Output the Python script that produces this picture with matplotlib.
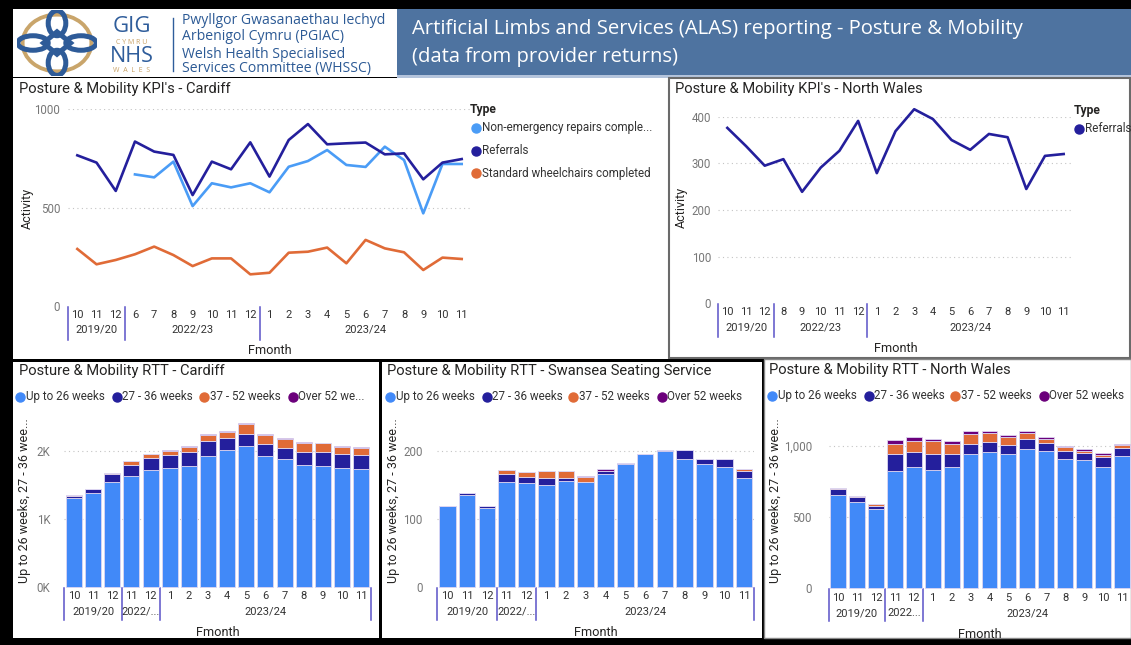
import numpy as np
import matplotlib
matplotlib.use('Agg')
import matplotlib.pyplot as plt
from matplotlib.patches import Rectangle, Ellipse, Polygon
from matplotlib.lines import Line2D

# ---------------- DATA ----------------
kpi_cardiff_months = ['10', '11', '12', '6', '7', '8', '9', '10', '11', '12',
                      '1', '2', '3', '4', '5', '6', '7', '8', '9', '10', '11']
kpi_cardiff_years = [('2019/20', 3), ('2022/23', 7), ('2023/24', 11)]
cardiff_repairs = [np.nan, np.nan, np.nan, 669, 654, 734, 508, 624, 603, 624,
                   578, 708, 737, 793, 717, 707, 810, 742, 471, 722, 722]
cardiff_referrals = [766, 729, 585, 836, 785, 768, 564, 734, 695, 832,
                     658, 844, 925, 822, 827, 831, 771, 776, 644, 729, 747]
cardiff_wheelchairs = [290, 212, 234, 263, 302, 259, 203, 242, 242, 161,
                       169, 271, 276, 297, 217, 336, 293, 273, 183, 246, 239]

kpi_nw_months = ['10', '11', '12', '8', '9', '10', '11', '12',
                 '1', '2', '3', '4', '5', '6', '7', '8', '9', '10', '11']
kpi_nw_years = [('2019/20', 3), ('2022/23', 5), ('2023/24', 11)]
nw_referrals = [376, 337, 295, 309, 239, 291, 327, 391,
                279, 369, 416, 395, 350, 329, 363, 356, 245, 316, 320]

rtt_months = ['10', '11', '12', '11', '12', '1', '2', '3', '4', '5', '6', '7', '8', '9', '10', '11']
rtt_years_cardiff = [('2019/20', 3), ('2022/...', 2), ('2023/24', 11)]
rtt_years_swansea = [('2019/20', 3), ('2022/...', 2), ('2023/24', 11)]
rtt_years_nw = [('2019/20', 3), ('2022...', 2), ('2023/24', 11)]
rtt_series = ['Up to 26 weeks', '27 - 36 weeks', '37 - 52 weeks', 'Over 52 weeks']

cardiff_up26 = [1315, 1379, 1540, 1638, 1721, 1755, 1785, 1927, 2010, 2073, 1927, 1888, 1790, 1780, 1746, 1731]
cardiff_27_36 = [30, 64, 127, 152, 171, 181, 200, 220, 176, 176, 181, 156, 200, 210, 205, 210]
cardiff_37_52 = [10, 4, 15, 63, 59, 69, 79, 88, 98, 142, 132, 132, 132, 122, 108, 108]
cardiff_over52 = [0, 0, 0, 5, 10, 10, 9, 9, 9, 15, 9, 15, 10, 10, 14, 10]

swansea_up26 = [120, 135, 117, 154, 153, 150, 156, 155, 167, 181, 196, 200, 189, 181, 176, 160]
swansea_27_36 = [0, 4, 3, 12, 9, 11, 4, 0, 3, 2, 0, 2, 13, 8, 12, 11]
swansea_37_52 = [0, 0, 0, 6, 7, 9, 10, 7, 1, 0, 0, 0, 0, 0, 0, 3]
swansea_over52 = [0, 0, 0, 0, 0, 0, 0, 2, 2, 0, 0, 0, 0, 0, 0, 0]

nw_up26 = [657, 607, 554, 822, 853, 829, 848, 939, 958, 942, 979, 965, 909, 900, 853, 928]
nw_27_36 = [37, 31, 25, 120, 100, 113, 94, 73, 70, 63, 65, 51, 54, 51, 70, 58]
nw_37_52 = [7, 12, 12, 70, 82, 91, 67, 70, 58, 58, 47, 31, 25, 14, 12, 19]
nw_over52 = [0, 0, 0, 28, 28, 14, 24, 21, 17, 12, 12, 11, 12, 12, 11, 4]

# ---------------- STYLE ----------------
C_LIGHT = '#4a9cf6'
C_DARK = '#241f9c'
C_ORANGE = '#e06b37'
C_PURPLE = '#6b007b'
C_BAR = '#4189f8'
DIV = '#5a52c8'
TXT = '#252423'
TICK = '#777777'
F = ['Roboto', 'DejaVu Sans']
FH = ['Open Sans', 'DejaVu Sans']
CFS = 8.0   # category label font size

W, H = 1131, 645
fig = plt.figure(figsize=(W / 100, H / 100), dpi=100, facecolor='black')


def fx(x):
    return x / W


def fy(y):
    return 1 - y / H


def px_axes(x0, y0, x1, y1, **kw):
    return fig.add_axes([x0 / W, 1 - y1 / H, (x1 - x0) / W, (y1 - y0) / H], **kw)


def rect(x0, y0, x1, y1, fc, ec='none', lw=0, z=-5):
    fig.add_artist(Rectangle((fx(x0), fy(y1)), (x1 - x0) / W, (y1 - y0) / H,
                             transform=fig.transFigure, facecolor=fc,
                             edgecolor=ec, linewidth=lw, zorder=z))


def ftext(x, y, s, **kw):
    kw.setdefault('family', F)
    kw.setdefault('color', TXT)
    fig.text(fx(x), fy(y), s, **kw)


def fmarker(x, y, color, ms=6.5):
    fig.add_artist(Line2D([fx(x)], [fy(y)], marker='o', markersize=ms,
                          color=color, transform=fig.transFigure, zorder=5))


# ---------------- PANELS ----------------
rect(13, 9, 397, 77, 'white')
rect(397, 9, 1131, 76, '#4e73a0')
rect(397, 75.5, 1131, 77.5, '#b4c4dc')
rect(13, 78, 668, 359, 'white')
rect(669, 78, 1130, 358, 'white', ec='#6a6a6a', lw=1.5)
rect(13, 362, 379, 638, 'white')
rect(382, 362, 762, 638, 'white')
rect(764, 359, 1131, 638, 'white', ec='#888888', lw=1)

# ---------------- HEADER ----------------
lax = px_axes(17, 10, 97, 76)
lax.set_xlim(0, 1)
lax.set_ylim(0, 1)
lax.axis('off')
lax.add_patch(Ellipse((0.5, 0.5), 0.86, 0.86, facecolor='none', edgecolor='#c9a56b', lw=2.8))
for (cx, cy, w, h) in [(0.5, 0.8, 0.22, 0.38), (0.5, 0.2, 0.22, 0.38),
                       (0.2, 0.5, 0.38, 0.22), (0.8, 0.5, 0.38, 0.22)]:
    lax.add_patch(Ellipse((cx, cy), w, h, facecolor='none', edgecolor='#2e5b98', lw=3.6))
lax.add_patch(Polygon([(0.5, 0.33), (0.67, 0.5), (0.5, 0.67), (0.33, 0.5)], closed=True,
                      facecolor='none', edgecolor='#2e5b98', lw=3.6))

ftext(132, 26, 'GIG', fontsize=16, color='#2f5d9b', ha='center', va='center', family=FH)
ftext(132, 42, 'C Y M R U', fontsize=5, color='#c8a165', ha='center', va='center', family=FH)
ftext(132, 56, 'NHS', fontsize=15.5, color='#2f5d9b', ha='center', va='center', family=FH)
ftext(132, 70.5, 'W  A  L  E  S', fontsize=5, color='#c8a165', ha='center', va='center', family=FH)
fig.add_artist(Line2D([fx(173), fx(173)], [fy(18), fy(71)], color='#2f5d9b', lw=1,
                      transform=fig.transFigure))
for yy, s in [(21, 'Pwyllgor Gwasanaethau Iechyd'), (37, 'Arbenigol Cymru (PGIAC)'),
              (54, 'Welsh Health Specialised'), (68.5, 'Services Committee (WHSSC)')]:
    ftext(182, yy, s, fontsize=10.1, color='#2c5a95', ha='left', va='center', family=FH)

ftext(412, 29, 'Artificial Limbs and Services (ALAS) reporting - Posture & Mobility',
      fontsize=14.6, color='white', ha='left', va='center', family=FH)
ftext(412, 57, '(data from provider returns)',
      fontsize=14.6, color='white', ha='left', va='center', family=FH)


# ---------------- HELPERS ----------------
def setup_axis(ax, months, groups, ytop, ybot, ymax, yticks, yticklabels,
               ypad, month_dy, year_dy, fmonth_dy, div_bot, right_div=False):
    n = len(months)
    hpx = ybot - ytop
    ax.set_facecolor('none')
    ax.set_xlim(-0.5, n - 0.5)
    ax.set_ylim(0, ymax)
    for s in ax.spines.values():
        s.set_visible(False)
    ax.set_xticks(range(n))
    ax.set_xticklabels(months, fontsize=CFS, color='#333333', family=F)
    ax.tick_params(axis='x', length=0, pad=(month_dy - 5.5) / 1.389)
    ax.set_yticks(yticks)
    ax.set_yticklabels(yticklabels, fontsize=8.3, color=TICK, family=F)
    ax.tick_params(axis='y', length=0, pad=ypad / 1.389)
    for t in yticks:
        if t > 0:
            ax.axhline(t, color='#c4c4c4', lw=0.8, ls=(0, (1, 3)), zorder=0)
    trans = ax.get_xaxis_transform()
    start = 0
    bounds = [-0.5]
    for name, cnt in groups:
        c = start + (cnt - 1) / 2
        ax.text(c, -year_dy / hpx, name, transform=trans, ha='center', va='center',
                fontsize=CFS, color='#333333', family=F)
        start += cnt
        bounds.append(start - 0.5)
    if not right_div:
        bounds = bounds[:-1]
    for b in bounds:
        ax.plot([b, b], [-1 / hpx, -div_bot / hpx], transform=trans, color=DIV,
                lw=1.1, clip_on=False)
    ax.text((n - 1) / 2, -fmonth_dy / hpx, 'Fmonth', transform=trans, ha='center',
            va='center', fontsize=9.2, color=TXT, family=F)


def stacked(ax, parts, colors):
    x = np.arange(len(parts[0]))
    bottom = np.zeros(len(x))
    for vals, col in zip(parts, colors):
        v = np.array(vals, dtype=float)
        ax.bar(x, v, bottom=bottom, width=0.84, color=col, edgecolor='#ddd6f2',
               linewidth=0.6, zorder=2, clip_on=False)
        bottom += v


TFS = 10.6

# ---------------- KPI CARDIFF ----------------
ftext(19, 89, "Posture & Mobility KPI's - Cardiff", fontsize=TFS, ha='left', va='center')
ax1 = px_axes(67.7, 109.3, 471.3, 306)
setup_axis(ax1, kpi_cardiff_months, kpi_cardiff_years, 109.3, 306, 1000,
           [0, 500, 1000], ['0', '500', '1000'], 7.5, 9.5, 23.5, 45, 34)
x = np.arange(len(kpi_cardiff_months))
ax1.plot(x, cardiff_repairs, color=C_LIGHT, lw=1.9, clip_on=False, zorder=3)
ax1.plot(x, cardiff_referrals, color=C_DARK, lw=1.9, clip_on=False, zorder=3)
ax1.plot(x, cardiff_wheelchairs, color=C_ORANGE, lw=1.9, clip_on=False, zorder=3)
ftext(27, 208, 'Activity', fontsize=9, rotation=90, ha='center', va='center')
ftext(470, 110, 'Type', fontsize=8.7, weight='bold', ha='left', va='center')
for yy, lab, col in [(128, 'Non-emergency repairs comple...', C_LIGHT),
                     (151, 'Referrals', C_DARK),
                     (173, 'Standard wheelchairs completed', C_ORANGE)]:
    fmarker(475.5, yy, col)
    ftext(482, yy, lab, fontsize=8.4, ha='left', va='center', color='#333333')

# ---------------- KPI NORTH WALES ----------------
ftext(675, 89.5, "Posture & Mobility KPI's - North Wales", fontsize=TFS, ha='left', va='center')
ax2 = px_axes(718, 116.7, 1073, 303.3)
setup_axis(ax2, kpi_nw_months, kpi_nw_years, 116.7, 303.3, 400,
           [0, 100, 200, 300, 400], ['0', '100', '200', '300', '400'], 7, 9.5, 24.5, 45, 34)
x2 = np.arange(len(kpi_nw_months))
ax2.plot(x2, nw_referrals, color=C_DARK, lw=1.9, clip_on=False, zorder=3)
ftext(681, 207, 'Activity', fontsize=9, rotation=90, ha='center', va='center')
ftext(1074, 110.7, 'Type', fontsize=8.7, weight='bold', ha='left', va='center')
fmarker(1079, 128.5, C_DARK)
ftext(1085, 128.5, 'Referrals', fontsize=8.4, ha='left', va='center', color='#333333')

# ---------------- RTT PANELS ----------------
bar_colors = [C_BAR, C_DARK, C_ORANGE, C_PURPLE]
ylab = 'Up to 26 weeks, 27 - 36 wee...'


def rtt_legend(xs, labels, y):
    for xm, lab, col in zip(xs, labels, bar_colors):
        fmarker(xm, y, col)
        ftext(xm + 5.5, y, lab, fontsize=8.4, ha='left', va='center', color='#333333')


# Cardiff
ftext(19, 371, 'Posture & Mobility RTT - Cardiff', fontsize=TFS, ha='left', va='center')
rtt_legend([20, 117, 204, 293], ['Up to 26 weeks', '27 - 36 weeks', '37 - 52 weeks', 'Over 52 we...'], 396.7)
ax3 = px_axes(64.4, 410, 370.7, 587.3)
setup_axis(ax3, rtt_months, rtt_years_cardiff, 410, 587.3, 2601.6,
           [0, 1000, 2000], ['0K', '1K', '2K'], 14, 9.5, 24.5, 45.4, 33, right_div=True)
stacked(ax3, [cardiff_up26, cardiff_27_36, cardiff_37_52, cardiff_over52], bar_colors)
ftext(25, 501, ylab, fontsize=9, rotation=90, ha='center', va='center')

# Swansea
ftext(386.7, 371, 'Posture & Mobility RTT - Swansea Seating Service', fontsize=TFS, ha='left', va='center')
rtt_legend([390, 486.7, 573.3, 661.7], rtt_series, 396.7)
ax4 = px_axes(437.4, 410, 753.9, 587.3)
setup_axis(ax4, rtt_months, rtt_years_swansea, 410, 587.3, 260.2,
           [0, 100, 200], ['0', '100', '200'], 14.7, 9.5, 24.5, 45.4, 33, right_div=True)
stacked(ax4, [swansea_up26, swansea_27_36, swansea_37_52, swansea_over52], bar_colors)
ftext(393, 501, ylab, fontsize=9, rotation=90, ha='center', va='center')

# North Wales
ftext(768.7, 370, 'Posture & Mobility RTT - North Wales', fontsize=TFS, ha='left', va='center')
rtt_legend([772, 868.7, 955.3, 1043.7], rtt_series, 395.5)
ax5 = px_axes(828.5, 410, 1131.5, 588.3)
setup_axis(ax5, rtt_months, rtt_years_nw, 410, 588.3, 1250,
           [0, 500, 1000], ['0', '500', '1,000'], 16.5, 10, 25, 45.7, 33)
stacked(ax5, [nw_up26, nw_27_36, nw_37_52, nw_over52], bar_colors)
ftext(775, 501, ylab, fontsize=9, rotation=90, ha='center', va='center')

fig.savefig('out.png', dpi=100, facecolor='black')
